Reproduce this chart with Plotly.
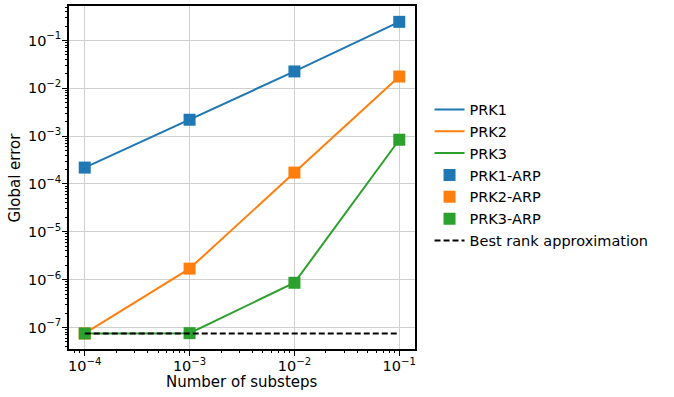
import math
import plotly.graph_objects as go

substeps = [1e-4, 1e-3, 1e-2, 1e-1]
prk1 = [2.2e-4, 2.2e-3, 2.25e-2, 2.45e-1]
prk2 = [7.5e-8, 1.7e-6, 1.73e-4, 1.76e-2]
prk3 = [7.5e-8, 7.6e-8, 8.6e-7, 8.4e-4]
prk1_arp = [2.2e-4, 2.2e-3, 2.25e-2, 2.45e-1]
prk2_arp = [7.5e-8, 1.7e-6, 1.73e-4, 1.76e-2]
prk3_arp = [7.5e-8, 7.6e-8, 8.6e-7, 8.4e-4]
best_rank = [7.5e-8, 7.5e-8, 7.5e-8, 7.5e-8]

BLUE, ORANGE, GREEN = "#1f77b4", "#ff7f0e", "#2ca02c"
FONT = "DejaVu Sans"

fig = go.Figure()
for name, ys, c in [("PRK1", prk1, BLUE), ("PRK2", prk2, ORANGE), ("PRK3", prk3, GREEN)]:
    fig.add_trace(go.Scatter(x=substeps, y=ys, mode="lines", name=name,
                             line=dict(color=c, width=2)))
for name, ys, c in [("PRK1-ARP", prk1_arp, BLUE), ("PRK2-ARP", prk2_arp, ORANGE),
                    ("PRK3-ARP", prk3_arp, GREEN)]:
    fig.add_trace(go.Scatter(x=substeps, y=ys, mode="markers", name=name,
                             marker=dict(color=c, symbol="square", size=12,
                                         line=dict(width=0))))
fig.add_trace(go.Scatter(x=substeps, y=best_rank, mode="lines",
                         name="Best rank approximation",
                         line=dict(color="black", width=2, dash="6px,3px")))

xt = [1e-4, 1e-3, 1e-2, 1e-1]
yt = [1e-7, 1e-6, 1e-5, 1e-4, 1e-3, 1e-2, 1e-1]


def sup(v):
    return "10<sup>−%d</sup>" % round(-math.log10(v))


def minors(lo, hi):
    # 2..9 x 10^e log minor tick positions
    return [k * 10.0 ** e for e in range(lo, hi) for k in range(2, 10)]


axis_common = dict(showline=True, linecolor="black", linewidth=1.6, mirror=True,
                   ticks="outside", ticklen=5, tickwidth=1, tickcolor="black",
                   gridcolor="#d0d0d0", gridwidth=1, zeroline=False,
                   automargin=False, ticklabelstandoff=-2,
                   tickfont=dict(family=FONT, size=14.5, color="black"))

fig.update_xaxes(type="log", range=[-4.15, -0.85], tickvals=xt,
                 ticktext=[sup(v) for v in xt],
                 minor=dict(ticks="outside", ticklen=2.5, tickcolor="black",
                            tickwidth=0.8, tickvals=minors(-5, 0), showgrid=False),
                 **axis_common)
fig.update_yaxes(type="log", range=[-7.45, -0.28], tickvals=yt,
                 ticktext=[sup(v) for v in yt],
                 minor=dict(ticks="outside", ticklen=2.5, tickcolor="black",
                            tickwidth=0.8, tickvals=minors(-8, 0), showgrid=False),
                 **axis_common)

fig.add_annotation(text="Number of substeps", xref="paper", yref="paper",
                   x=0.5, y=0, yshift=-33, xanchor="center", yanchor="middle",
                   showarrow=False, font=dict(family=FONT, size=15, color="black"))
fig.add_annotation(text="Global error", xref="paper", yref="paper",
                   x=0, y=0.5, xshift=-55, xanchor="center", yanchor="middle",
                   textangle=-90, showarrow=False,
                   font=dict(family=FONT, size=15, color="black"))

fig.update_layout(
    width=674, height=397,
    paper_bgcolor="white", plot_bgcolor="white",
    margin=dict(l=69, r=259, t=6, b=48),
    font=dict(family=FONT, size=14, color="black"),
    legend=dict(x=1.042, y=0.745, xanchor="left", yanchor="top",
                bgcolor="rgba(0,0,0,0)", font=dict(family=FONT, size=14.5),
                tracegroupgap=0),
)

fig.write_html("out.html", config={"displayModeBar": False},
               post_script="document.body.style.margin='0';")
